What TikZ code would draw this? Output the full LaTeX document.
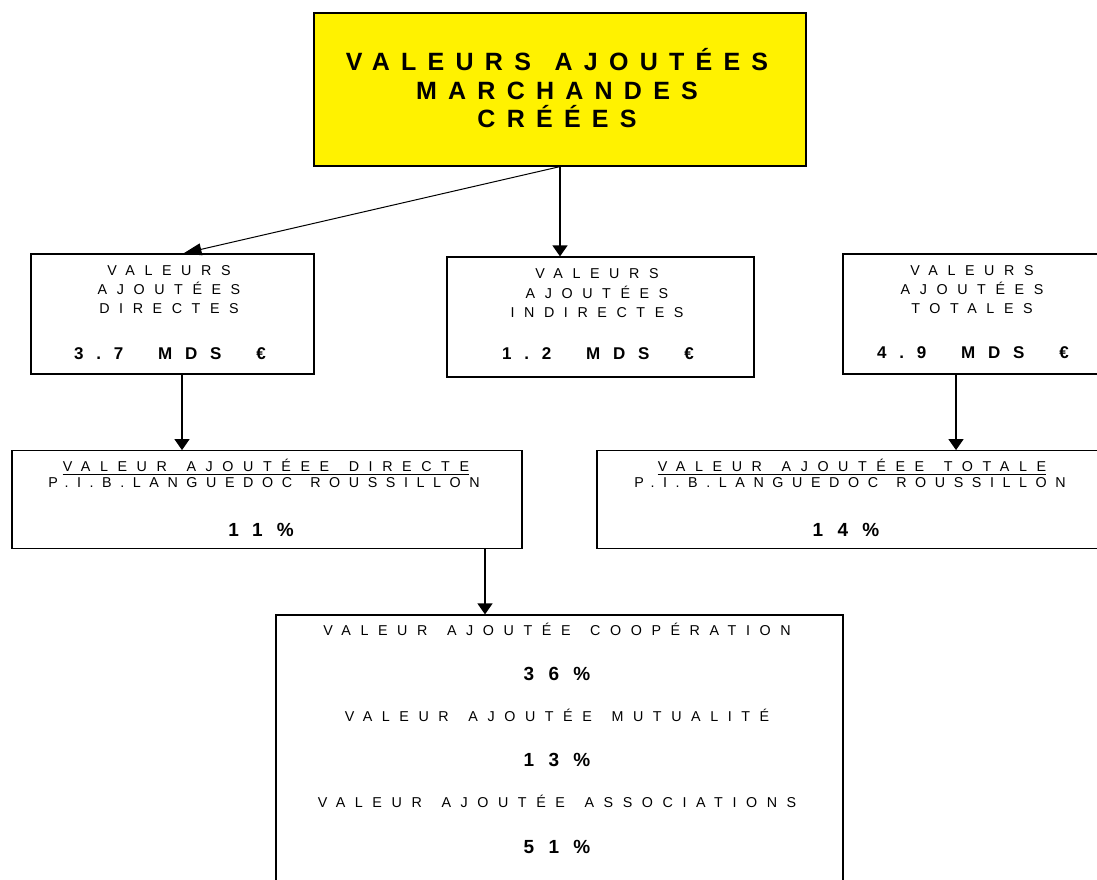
\documentclass[tikz,border=0pt]{standalone}
\usepackage{fontspec}
\setmainfont{Liberation Sans}
\newfontfamily\ttlfont[LetterSpace=45,WordSpace=1.3]{Liberation Sans}
\newfontfamily\smlfont[LetterSpace=67,WordSpace=1.45]{Liberation Sans}
\newfontfamily\pibfont[LetterSpace=60,WordSpace=1.45]{Liberation Sans}
\newfontfamily\valfont[LetterSpace=75,WordSpace=2]{Liberation Sans}
\usetikzlibrary{arrows.meta}
\tikzset{
  boxnode/.style={draw=black, line width=1.2pt, inner sep=0pt, rectangle},
  lbltitle/.style={inner sep=0pt, anchor=base, font=\ttlfont\bfseries\fontsize{25}{28}\selectfont},
  lblsmall/.style={inner sep=0pt, anchor=base, font=\smlfont\fontsize{14.3}{17}\selectfont},
  lblpib/.style={inner sep=0pt, anchor=base, font=\pibfont\fontsize{14.3}{17}\selectfont},
  lblval/.style={inner sep=0pt, anchor=base, font=\valfont\bfseries\fontsize{17}{20}\selectfont},
  lblpct/.style={inner sep=0pt, anchor=base, font=\valfont\bfseries\fontsize{19}{22}\selectfont},
  arr/.style={line width=1.3pt, -{Triangle[width=15pt,length=11pt]}},
  arrthin/.style={line width=1pt, -{Triangle[width=12pt,length=18pt]}},
  uline/.style={line width=1.2pt}
}
\begin{document}
\begin{tikzpicture}[x=1pt,y=-1pt]
\useasboundingbox (0,0) rectangle (1097,879);
\clip (0,0) rectangle (1097,879);

% boxes
\node[boxnode, fill=yellow, minimum width=492pt, minimum height=153pt] (top) at (560,89.5) {};
\node[boxnode, minimum width=283pt, minimum height=120pt] (dir) at (172.5,314) {};
\node[boxnode, minimum width=307pt, minimum height=120pt] (ind) at (600.5,317) {};
\node[boxnode, minimum width=262pt, minimum height=120pt] (tot) at (974,314) {};
\node[boxnode, minimum width=510pt, minimum height=98pt] (dpib) at (267,499.7) {};
\node[boxnode, minimum width=513pt, minimum height=98pt] (tpib) at (853.5,499.7) {};
\node[boxnode, minimum width=567pt, minimum height=290pt] (bot) at (559.5,760) {};

% title
\node[lbltitle] (t1) at (557,70.7) {VALEURS AJOUTÉES};
\node[lbltitle] (t2) at (557,99) {MARCHANDES};
\node[lbltitle] (t3) at (557,127.7) {CRÉÉES};

% direct
\node[lblsmall] (d1) at (169,275.9) {VALEURS};
\node[lblsmall] (d2) at (169,294.8) {AJOUTÉES};
\node[lblsmall] (d3) at (169,313.8) {DIRECTES};
\node[lblval] (d4) at (170,359.1) {3.7 MDS €};

% indirect
\node[lblsmall] (i1) at (597,278.1) {VALEURS};
\node[lblsmall] (i2) at (597,298.1) {AJOUTÉES};
\node[lblsmall] (i3) at (597,317.1) {INDIRECTES};
\node[lblval] (i4) at (598,359.1) {1.2 MDS €};

% total
\node[lblsmall] (o1) at (972,275.1) {VALEURS};
\node[lblsmall] (o2) at (972,294.1) {AJOUTÉES};
\node[lblsmall] (o3) at (972,313.1) {TOTALES};
\node[lblval] (o4) at (973,358.1) {4.9 MDS €};

% direct PIB
\node[lblsmall] (p1) at (266,471.5) {VALEUR AJOUTÉEE DIRECTE};
\draw[uline] ([yshift=-2.8pt]p1.base west) -- ([yshift=-2.8pt]p1.base east);
\node[lblpib] (p2) at (264,487.4) {P.I.B.LANGUEDOC ROUSSILLON};
\node[lblpct] (p3) at (261,536.5) {11\%};

% total PIB
\node[lblsmall] (q1) at (852,471.3) {VALEUR AJOUTÉEE TOTALE};
\draw[uline] ([yshift=-2.8pt]q1.base west) -- ([yshift=-2.8pt]q1.base east);
\node[lblpib] (q2) at (850,487.3) {P.I.B.LANGUEDOC ROUSSILLON};
\node[lblpct] (q3) at (846,536.8) {14\%};

% bottom
\node[lblsmall] (b1) at (557,635.8) {VALEUR AJOUTÉE COOPÉRATION};
\node[lblpct] (b2) at (557,680.8) {36\%};
\node[lblsmall] (b3) at (557,721.8) {VALEUR AJOUTÉE MUTUALITÉ};
\node[lblpct] (b4) at (557,766.8) {13\%};
\node[lblsmall] (b5) at (557,807.1) {VALEUR AJOUTÉE ASSOCIATIONS};
\node[lblpct] (b6) at (557,853.5) {51\%};

% connectors
\draw[arrthin] (top.south) -- ([xshift=11pt]dir.north);
\draw[arr] (top.south) -- (top.south |- ind.north);
\draw[arr] ([xshift=9.5pt]dir.south) -- ([xshift=9.5pt]dir.south |- dpib.north);
\draw[arr] ([xshift=-18pt]tot.south) -- ([xshift=-18pt]tot.south |- tpib.north);
\draw[arr] ([xshift=218pt]dpib.south) -- ([xshift=218pt]dpib.south |- bot.north);
\end{tikzpicture}
\end{document}
